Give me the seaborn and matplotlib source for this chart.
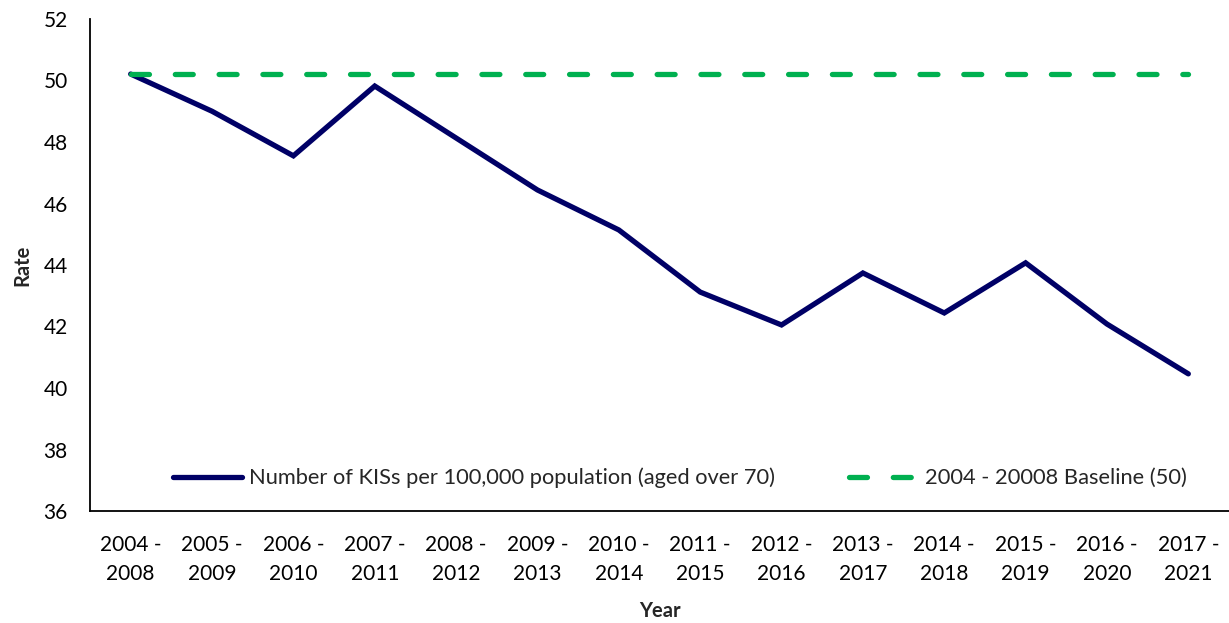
import numpy as np
import pandas as pd
import matplotlib
matplotlib.use("Agg")
import matplotlib.pyplot as plt
import seaborn as sns

periods = ["2004 -\n2008", "2005 -\n2009", "2006 -\n2010", "2007 -\n2011", "2008 -\n2012",
           "2009 -\n2013", "2010 -\n2014", "2011 -\n2015", "2012 -\n2016", "2013 -\n2017",
           "2014 -\n2018", "2015 -\n2019", "2016 -\n2020", "2017 -\n2021"]
kis_rate = [50.21, 49.00, 47.55, 49.82, 48.13, 46.44, 45.14, 43.12, 42.05, 43.74,
            42.44, 44.07, 42.08, 40.46]
baseline_value = 50.21
yticks = [36, 38, 40, 42, 44, 46, 48, 50, 52]

kis_label = "Number of KISs per 100,000 population (aged over 70)"
base_label = "2004 - 20008 Baseline (50)"

sns.set_theme(style="white")
plt.rcParams["font.family"] = ["Lato", "DejaVu Sans"]

df = pd.DataFrame({"period": periods, "rate": kis_rate,
                   "baseline": [baseline_value] * len(periods)})
df["pos"] = np.arange(len(periods))

fig = plt.figure(figsize=(12.29, 6.23), dpi=100)
ax = fig.add_axes([90 / 1229, 1 - 511 / 623, 1 - 90 / 1229, (511 - 19) / 623])

sns.lineplot(data=df, x="pos", y="rate", ax=ax, color="#000066", linewidth=3.8,
             label=kis_label, solid_capstyle="round", solid_joinstyle="miter")
sns.lineplot(data=df, x="pos", y="baseline", ax=ax, color="#00B050", linewidth=3.8,
             label=base_label, dash_capstyle="round")
ax.lines[1].set_dashes([3.4, 4.9])

ax.set_xlim(-0.5, len(periods) - 0.5)
ax.set_ylim(36, 52)
ax.set_yticks(yticks)
ax.set_yticklabels([str(v) for v in yticks])
ax.set_xticks(df["pos"])
ax.set_xticklabels(periods, linespacing=1.6)
ax.tick_params(axis="both", length=0, labelsize=15, colors="black")
ax.tick_params(axis="y", pad=16)
ax.tick_params(axis="x", pad=17)

for side in ["top", "right"]:
    ax.spines[side].set_visible(False)
for side in ["left", "bottom"]:
    ax.spines[side].set_color("black")
    ax.spines[side].set_linewidth(1.3)

ax.set_xlabel("Year", fontsize=14.5, fontweight="bold", labelpad=12)
ax.set_ylabel("Rate", fontsize=14.5, fontweight="bold", labelpad=8)

ax.legend(loc="center", bbox_to_anchor=(0.518, 33 / 492), ncol=2, frameon=False,
          fontsize=15.75, handlelength=3.15, handletextpad=0.3, columnspacing=3.4)

fig.savefig("out.png", dpi=100)
